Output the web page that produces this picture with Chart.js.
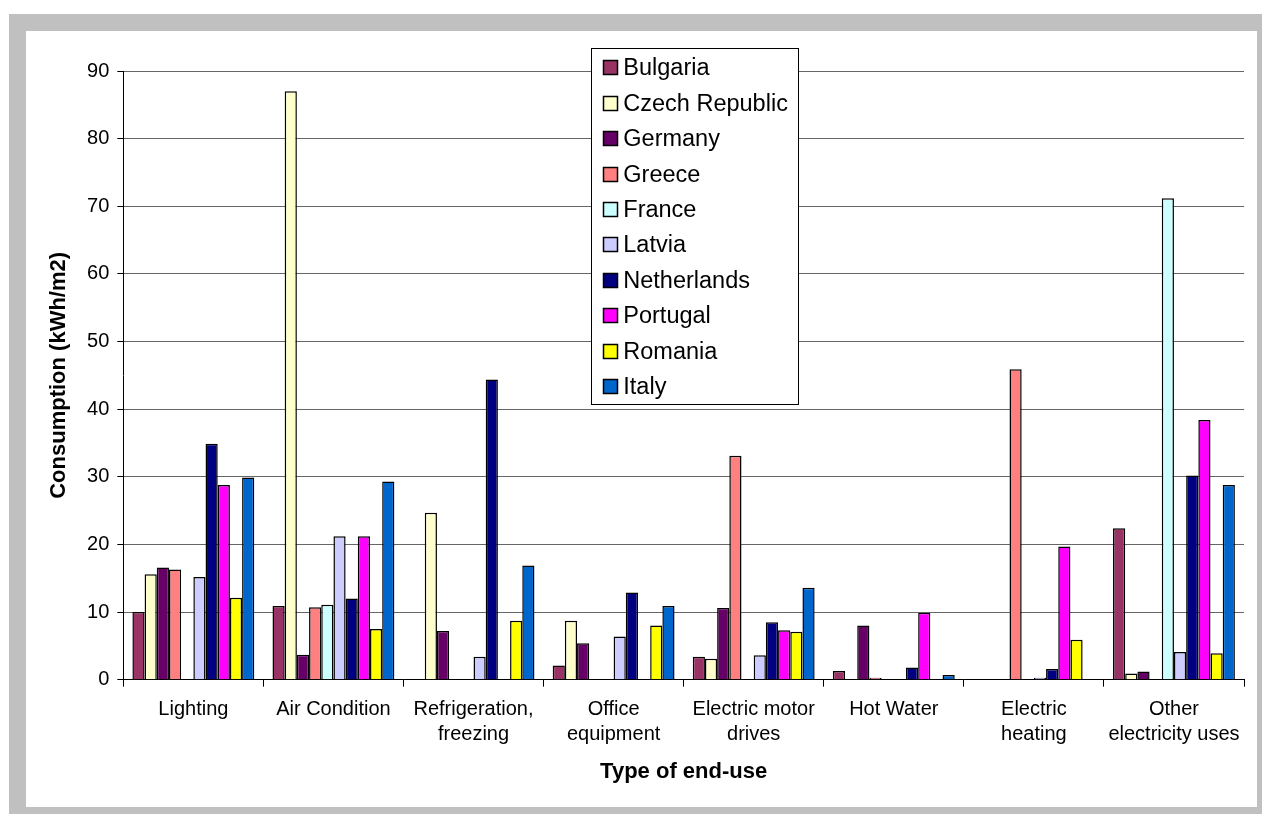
<!DOCTYPE html>
<html>
<head>
<meta charset="utf-8">
<script src="https://cdn.jsdelivr.net/npm/chart.js@4/dist/chart.umd.min.js"></script>
<style>
    body { margin: 0; background: #fff; }
    #frame {
        position: absolute; left: 9px; top: 14px;
        width: 1231px; height: 776px;
        border: 17px solid #c0c0c0; background: #fff;
    }
    #chart { display: block; }
</style>
</head>
<body>
<div id="frame"><canvas id="chart" width="1231" height="776"></canvas></div>
<script>
    // end-use categories (x axis)
    const categories = [
        'Lighting', 'Air Condition', ['Refrigeration,', 'freezing'], ['Office', 'equipment'],
        ['Electric motor', 'drives'], 'Hot Water', ['Electric', 'heating'], ['Other', 'electricity uses']
    ];

    // consumption per country, kWh/m2, same order as categories
    const bulgaria    = [10.0, 10.9, 0,    2.1,  3.4,  1.3, 0,    22.4];
    const czech       = [15.6, 87.0, 24.7, 8.7,  3.1,  0,   0,    0.9];
    const germany     = [16.6, 3.7,  7.2,  5.4,  10.6, 8.0, 0,    1.2];
    const greece      = [16.3, 10.7, 0,    0,    33.1, 0.3, 45.9, 0];
    const france      = [0,    11.1, 0,    0,    0,    0,   0,    71.2];
    const latvia      = [15.2, 21.2, 3.4,  6.4,  3.6,  0,   0.3,  4.1];
    const netherlands = [34.9, 12.0, 44.4, 12.9, 8.5,  1.8, 1.6,  30.2];
    const portugal    = [28.8, 21.2, 0,    0,    7.3,  9.9, 19.7, 38.4];
    const romania     = [12.1, 7.5,  8.7,  8.0,  7.1,  0,   5.9,  3.9];
    const italy       = [29.9, 29.3, 16.9, 10.9, 13.6, 0.7, 0,    28.8];

    const yTicks = [0, 10, 20, 30, 40, 50, 60, 70, 80, 90];

    const FONT = '"Liberation Sans", Arial, sans-serif';

    const series = [
        ['Bulgaria', bulgaria, '#993366'],
        ['Czech Republic', czech, '#FFFFCC'],
        ['Germany', germany, '#660066'],
        ['Greece', greece, '#FF8080'],
        ['France', france, '#CCFFFF'],
        ['Latvia', latvia, '#CCCCFF'],
        ['Netherlands', netherlands, '#000080'],
        ['Portugal', portugal, '#FF00FF'],
        ['Romania', romania, '#FFFF00'],
        ['Italy', italy, '#0066CC']
    ];

    // boxed legend sitting over the plot, like the original
    const boxLegend = {
        id: 'boxLegend',
        afterDraw(chart) {
            const ctx = chart.ctx;
            ctx.save();
            ctx.fillStyle = '#fff';
            ctx.fillRect(565.5, 17.5, 207, 356);
            ctx.strokeStyle = '#000';
            ctx.lineWidth = 1;
            ctx.strokeRect(565.5, 17.5, 207, 356);
            ctx.font = '23.5px ' + FONT;
            ctx.textBaseline = 'middle';
            chart.data.datasets.forEach((ds, i) => {
                const cy = 36.7 + i * 35.44;
                ctx.fillStyle = ds.backgroundColor;
                ctx.fillRect(577, Math.round(cy - 7.5), 15, 15);
                ctx.lineWidth = 1.5;
                ctx.strokeRect(577.5, Math.round(cy - 7.5) + 0.5, 14, 14);
                ctx.fillStyle = '#000';
                ctx.fillText(ds.label, 597.3, cy + 1);
            });
            ctx.restore();
        }
    };

    new Chart(document.getElementById('chart').getContext('2d'), {
        type: 'bar',
        data: {
            labels: categories,
            datasets: series.map(([label, data, color]) => ({
                label: label,
                data: data,
                backgroundColor: color,
                borderColor: '#000',
                borderWidth: 1.5,
                borderSkipped: 'start',
                categoryPercentage: 0.87,
                barPercentage: 1
            }))
        },
        options: {
            responsive: false,
            animation: false,
            layout: { padding: { left: 20, right: 13, top: 40, bottom: 22 } },
            plugins: {
                legend: { display: false },
                tooltip: { enabled: false }
            },
            scales: {
                x: {
                    grid: { display: true, drawOnChartArea: false, tickLength: 7, tickColor: '#000', offset: true },
                    border: { color: '#000', width: 1 },
                    ticks: { color: '#000', font: { family: FONT, size: 20, lineHeight: 1.25 }, padding: 10, maxRotation: 0, autoSkip: false },
                    title: { display: true, text: 'Type of end-use', color: '#000', font: { family: FONT, size: 22, weight: 'bold' }, padding: 0 },
                    afterFit(scale) { scale.height = 105.3; }
                },
                y: {
                    min: 0,
                    max: 90,
                    afterBuildTicks(scale) { scale.ticks = yTicks.map(v => ({ value: v })); },
                    grid: { color: '#666', lineWidth: 1, tickLength: 6, tickColor: '#000' },
                    border: { color: '#000', width: 1 },
                    ticks: { color: '#000', font: { family: FONT, size: 20 }, padding: 8 },
                    title: { display: true, text: 'Consumption (kWh/m2)', color: '#000', font: { family: FONT, size: 22, weight: 'bold' }, padding: 0 },
                    afterFit(scale) { scale.width = 77.3; }
                }
            }
        },
        plugins: [boxLegend]
    });
</script>
</body>
</html>
